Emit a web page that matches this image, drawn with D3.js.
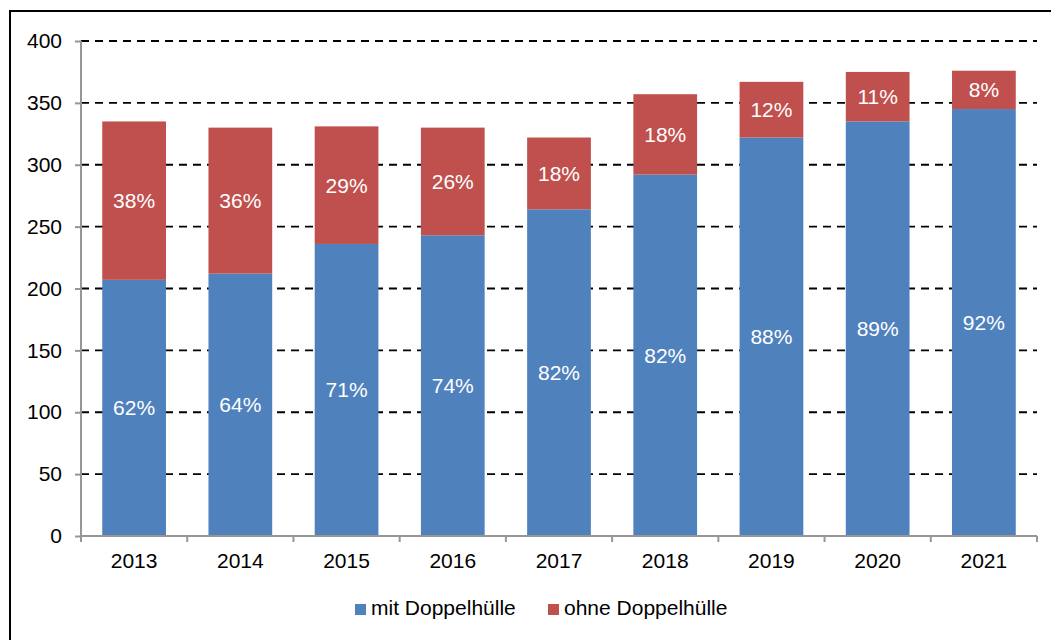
<!DOCTYPE html>
<html>
<head>
<meta charset="utf-8">
<script src="https://cdn.jsdelivr.net/npm/d3@7"></script>
<style>
    body { margin: 0; background: #fff; }
    text { font-family: "Liberation Sans", Arial, sans-serif; }
</style>
</head>
<body>
<svg id="chart"></svg>
<script>
let years = ["2013", "2014", "2015", "2016", "2017", "2018", "2019", "2020", "2021"];
let mitValues = [207, 212, 236, 243, 264, 292, 322, 335, 345];
let ohneValues = [128, 118, 95, 87, 58, 65, 45, 40, 31];
let mitLabels = ["62%", "64%", "71%", "74%", "82%", "82%", "88%", "89%", "92%"];
let ohneLabels = ["38%", "36%", "29%", "26%", "18%", "18%", "12%", "11%", "8%"];
let yTicks = [0, 50, 100, 150, 200, 250, 300, 350, 400];
let seriesNames = ["mit Doppelhülle", "ohne Doppelhülle"];

let blueColor = "#4F81BD";
let redColor = "#C0504D";
let axisColor = "#969696";
let fontSize = "21px";

let W = 1051, H = 640;
let margin = {top: 41, right: 14, bottom: 104, left: 81};
let width = W - margin.left - margin.right,
    height = H - margin.top - margin.bottom;

let root = d3.select("#chart")
    .attr("width", W)
    .attr("height", H);

// outer frame (right and bottom edges sit outside the picture)
root.append("rect")
    .attr("x", 10)
    .attr("y", 11)
    .attr("width", W + 20)
    .attr("height", H + 20)
    .attr("fill", "none")
    .attr("stroke", "#000")
    .attr("stroke-width", 2);

let svg = root.append("g")
    .attr("transform", "translate(" + margin.left + "," + margin.top + ")");

let x = d3.scaleBand()
    .range([0, width])
    .domain(years)
    .paddingInner(0.4)
    .paddingOuter(0.2);

let y = d3.scaleLinear()
    .range([height, 0])
    .domain([0, 400]);

// dashed gridlines
svg.append("g")
    .selectAll("line")
    .data(yTicks.filter(function (d) { return d > 0; }))
    .enter()
    .append("line")
    .attr("x1", 0)
    .attr("x2", width)
    .attr("y1", function (d) { return y(d); })
    .attr("y2", function (d) { return y(d); })
    .attr("stroke", "#000")
    .attr("stroke-width", 1.8)
    .attr("stroke-dasharray", "8,6");

// stacked data
let stacked = years.map(function (yr, i) {
    return {year: yr, mit: mitValues[i], ohne: ohneValues[i],
        mitLabel: mitLabels[i], ohneLabel: ohneLabels[i]};
});

let bars = svg.append("g");
bars.selectAll(".mit")
    .data(stacked)
    .enter()
    .append("rect")
    .attr("class", "mit")
    .attr("x", function (d) { return x(d.year); })
    .attr("y", function (d) { return y(d.mit); })
    .attr("width", x.bandwidth())
    .attr("height", function (d) { return y(0) - y(d.mit); })
    .style("fill", blueColor);

bars.selectAll(".ohne")
    .data(stacked)
    .enter()
    .append("rect")
    .attr("class", "ohne")
    .attr("x", function (d) { return x(d.year); })
    .attr("y", function (d) { return y(d.mit + d.ohne); })
    .attr("width", x.bandwidth())
    .attr("height", function (d) { return y(d.mit) - y(d.mit + d.ohne); })
    .style("fill", redColor);

// percentage labels
bars.selectAll(".mitLabel")
    .data(stacked)
    .enter()
    .append("text")
    .attr("x", function (d) { return x(d.year) + x.bandwidth() / 2; })
    .attr("y", function (d) { return y(d.mit / 2); })
    .attr("dy", "0.35em")
    .attr("text-anchor", "middle")
    .attr("fill", "#fff")
    .style("font-size", fontSize)
    .text(function (d) { return d.mitLabel; });

bars.selectAll(".ohneLabel")
    .data(stacked)
    .enter()
    .append("text")
    .attr("x", function (d) { return x(d.year) + x.bandwidth() / 2; })
    .attr("y", function (d) { return y(d.mit + d.ohne / 2); })
    .attr("dy", "0.35em")
    .attr("text-anchor", "middle")
    .attr("fill", "#fff")
    .style("font-size", fontSize)
    .text(function (d) { return d.ohneLabel; });

// y axis
let yAxis = svg.append("g")
    .call(d3.axisLeft(y).tickValues(yTicks).tickSize(6).tickPadding(13));
yAxis.select(".domain").attr("stroke", axisColor).attr("stroke-width", 2)
    .attr("d", "M0," + y(400) + "V" + y(0));
yAxis.selectAll(".tick line").attr("stroke", axisColor).attr("stroke-width", 2);
yAxis.selectAll(".tick text")
    .attr("fill", "#000")
    .style("font-size", fontSize)
    .style("font-family", "'Liberation Sans', Arial, sans-serif");

// x axis: ticks at band boundaries
let xAxis = svg.append("g")
    .attr("transform", "translate(0," + height + ")");
xAxis.append("line")
    .attr("x1", 0)
    .attr("x2", width)
    .attr("stroke", axisColor)
    .attr("stroke-width", 2);
let step = x.step();
xAxis.selectAll(".xtick")
    .data(d3.range(years.length + 1))
    .enter()
    .append("line")
    .attr("x1", function (i) { return i * step; })
    .attr("x2", function (i) { return i * step; })
    .attr("y1", 0)
    .attr("y2", 6)
    .attr("stroke", axisColor)
    .attr("stroke-width", 2);
xAxis.selectAll(".xlabel")
    .data(years)
    .enter()
    .append("text")
    .attr("x", function (d) { return x(d) + x.bandwidth() / 2; })
    .attr("y", 32)
    .attr("text-anchor", "middle")
    .attr("fill", "#000")
    .style("font-size", fontSize)
    .text(function (d) { return d; });

// legend
let legendX = [355, 548];
let legendColors = [blueColor, redColor];
let legend = root.append("g");
seriesNames.forEach(function (name, i) {
    legend.append("rect")
        .attr("x", legendX[i])
        .attr("y", 604)
        .attr("width", 11)
        .attr("height", 11)
        .style("fill", legendColors[i]);
    legend.append("text")
        .attr("x", legendX[i] + 16)
        .attr("y", 615)
        .attr("fill", "#000")
        .style("font-size", fontSize)
        .text(name);
});
</script>
</body>
</html>
